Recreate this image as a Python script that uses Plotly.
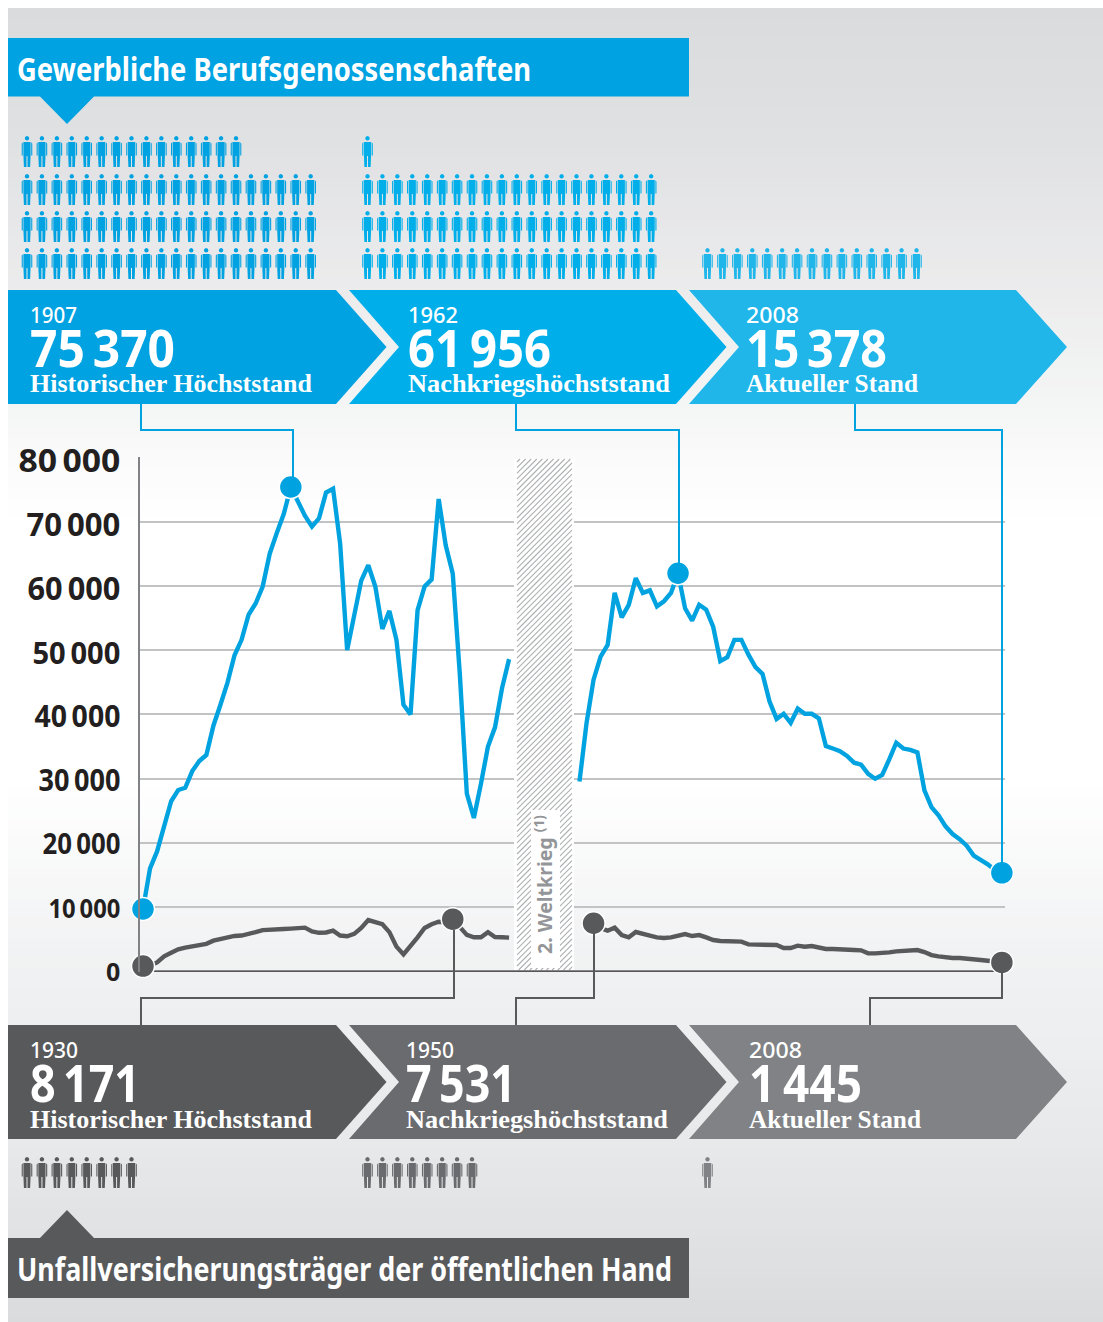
import json
import plotly.graph_objects as go

W, H = 1103, 1322

# ---- data -------------------------------------------------------------
years_pre = list(range(1886, 1939))
blue_pre = [9750, 16050, 18700, 22500, 26500, 28250, 28600, 31200, 32750, 33700, 38250, 41500,
            44950, 49200, 51600, 55500, 57250, 59900, 65000, 68200, 71200, 75370, 73000, 70900,
            69200, 70500, 74500, 75100, 66600, 50000, 55400, 60800, 63200, 59900, 53300, 56100,
            51600, 41500, 40000, 56200, 59900, 61000, 73500, 66300, 61900, 46300, 27700, 23900,
            29200, 35000, 38000, 44100, 48600]
gray_pre = [880, 960, 1440, 2400, 2940, 3480, 3750, 3960, 4230, 4330, 4820, 5080, 5400, 5560,
            5620, 5830, 6150, 6470, 6470, 6470, 6630, 6690, 6800, 6850, 6260, 6050, 6100, 6370,
            5620, 5510, 5890, 6800, 8030, 7760, 7380, 6150, 3900, 2680, 3900, 5350, 6800, 7380,
            7760, 7700, 8171, 6950, 5720, 5350, 5350, 6150, 5400, 5350, 5300]
years_post_blue = list(range(1948, 2009))
blue_post = [29560, 38640, 45400, 49000, 50800, 58900, 55100, 57050, 61200, 58900, 59300, 56800,
             57600, 58900, 61956, 56500, 54600, 57050, 56300, 53600, 48300, 48900, 51600, 51600,
             49300, 47350, 46300, 42000, 39300, 40100, 38700, 40900, 40100, 40100, 39400, 35100,
             34700, 34300, 33550, 32500, 32200, 30750, 30000, 30600, 33000, 35600, 34700, 34500,
             34100, 28200, 25600, 24300, 22600, 21400, 20600, 19600, 18050, 17400, 16700, 15800,
             15378]
years_post_gray = list(range(1950, 2009))
gray_post = [7531, 6740, 6380, 6850, 5700, 5340, 6170, 5810, 5600, 5340, 5240, 5340, 5550, 5860,
             5550, 5700, 5340, 4930, 4770, 4770, 4720, 4670, 4250, 4200, 4250, 4150, 4150, 3680,
             3680, 4050, 3890, 3990, 3790, 3530, 3530, 3530, 3420, 3370, 3320, 2850, 2850, 2850,
             3010, 3160, 3270, 3320, 3370, 3060, 2590, 2390, 2230, 2130, 2130, 2070, 2020, 1820,
             1710, 1660, 1445]
blue_marker_years = [1886, 1907, 1962, 2008]
blue_marker_values = [9750, 75370, 61956, 15378]
gray_marker_years = [1886, 1930, 1950, 2008]
gray_marker_values = [880, 8171, 7531, 1445]

tick_values = [0, 10000, 20000, 30000, 40000, 50000, 60000, 70000, 80000]
tick_names = ["0", "10\u2009000", "20\u2009000", "30\u2009000", "40\u2009000", "50\u2009000",
              "60\u2009000", "70\u2009000", "80\u2009000"]
tick_sizes = [25, 26, 28, 29.5, 30, 31, 32, 33, 33]
tick_labels = [f'<span style="font-size:{s}px">{t}</span>' for t, s in zip(tick_names, tick_sizes)]

top_years = ["1907", "1962", "2008"]
top_numbers = ["75\u2009370", "61\u2009956", "15\u2009378"]
bottom_years = ["1930", "1950", "2008"]
bottom_numbers = ["8\u2009171", "7\u2009531", "1\u2009445"]
stage_labels = ["Historischer Höchststand", "Nachkriegshöchststand", "Aktueller Stand"]
top_people = [75, 61, 15]
bottom_people = [8, 8, 1]

title_top = "Gewerbliche Berufsgenossenschaften"
title_bottom = "Unfallversicherungsträger der öffentlichen Hand"

# drawn widths of the condensed texts of the reference
text_widths = {
    title_top: 514, title_bottom: 655,
    "75\u2009370": 145, "61\u2009956": 143, "15\u2009378": 141,
    "8\u2009171": 110, "7\u2009531": 110, "1\u2009445": 113,
    "1907": 47, "1962": 50, "2008": 53, "1930": 48, "1950": 48,
    "Historischer Höchststand": 282, "Nachkriegshöchststand": 262, "Aktueller Stand": 172,
}
tick_widths = {"80\u2009000": 102, "70\u2009000": 94, "60\u2009000": 93, "50\u2009000": 88,
               "40\u2009000": 86, "30\u2009000": 82, "20\u2009000": 78, "10\u2009000": 72}
tick_nudges = {"80\u2009000": 3, "70\u2009000": 3, "60\u2009000": 3, "50\u2009000": 2,
               "40\u2009000": 1, "30\u2009000": 1, "20\u2009000": -1, "10\u2009000": -1, "0": -2}

# ---- style ------------------------------------------------------------
BLUE = "#00a3e0"
TOP_COLORS = ["#00a2e1", "#00afea", "#20b6ea"]
BOTTOM_COLORS = ["#58595b", "#6a6b6e", "#808285"]
DARK = "#58595b"
NUM_FONT = "Noto Sans"
SERIF = "Liberation Serif"


def px(x):
    return x / W


def py(y):
    return 1 - y / H


# plot box in pixels
X0, X1, Y0, Y1 = 140, 1005, 457.2, 971.7


def year_at(x):
    return 1886 + (x - 143) / 7.04


def val_at(y):
    return (Y1 - y) / (Y1 - Y0) * 80000


shapes = []


def poly(points, color, layer="below"):
    d = "M " + " L ".join(f"{px(x):.5f},{py(y):.5f}" for x, y in points) + " Z"
    shapes.append(dict(type="path", path=d, xref="paper", yref="paper", fillcolor=color,
                       line=dict(width=0), layer=layer))


def polyline(points, color, width=2.0):
    d = "M " + " L ".join(f"{px(x):.5f},{py(y):.5f}" for x, y in points)
    shapes.append(dict(type="path", path=d, xref="paper", yref="paper",
                       line=dict(color=color, width=width), layer="above"))


# background gradient as fine bands
stops = [(8, (218, 219, 221)), (140, (224, 225, 227)), (290, (236, 236, 237)), (404, (244, 245, 245)),
         (450, (250, 250, 250)), (520, (255, 255, 255)), (780, (255, 255, 255)), (970, (240, 241, 242)),
         (1025, (238, 239, 240)), (1140, (232, 233, 234)), (1322, (218, 219, 221))]


def grad(y):
    for (a, ca), (b, cb) in zip(stops, stops[1:]):
        if a <= y <= b:
            t = (y - a) / (b - a)
            return tuple(round(ca[i] + (cb[i] - ca[i]) * t) for i in range(3))
    return stops[-1][1]


step = 10
for y in range(8, H, step):
    c = grad(y + step / 2)
    shapes.append(dict(type="rect", xref="paper", yref="paper", x0=px(8), x1=1, y0=py(y),
                       y1=py(min(y + step + 1, H)), fillcolor=f"rgb{c}", line=dict(width=0), layer="below"))

# banners
poly([(8, 38), (689, 38), (689, 96.5), (94, 96.5), (67, 124), (40, 96.5), (8, 96.5)], TOP_COLORS[0])
poly([(8, 1238), (40, 1238), (67, 1210), (94, 1238), (689, 1238), (689, 1298), (8, 1298)], BOTTOM_COLORS[0])


# chevrons
def chevrons(top, bottom, colors):
    mid = (top + bottom) / 2
    poly([(8, top), (336, top), (386.5, mid), (336, bottom), (8, bottom)], colors[0])
    poly([(349, top), (676, top), (726.5, mid), (676, bottom), (349, bottom), (399, mid)], colors[1])
    poly([(689, top), (1016, top), (1067, mid), (1016, bottom), (689, bottom), (739, mid)], colors[2])


chevrons(290, 404, TOP_COLORS)
chevrons(1025, 1139, BOTTOM_COLORS)


# pictogram people, one path per group
def person(cx, top):
    parts = []
    hx, hy, r = cx, top + 2.3, 2.3
    head = [(hx - r, hy), (hx - .7 * r, hy - .7 * r), (hx, hy - r), (hx + .7 * r, hy - .7 * r), (hx + r, hy),
            (hx + .7 * r, hy + .7 * r), (hx, hy + r), (hx - .7 * r, hy + .7 * r)]
    parts.append(head)
    # torso + legs
    parts.append([(cx - 3.6, top + 6), (cx + 3.6, top + 6), (cx + 3.6, top + 19), (cx + 3.1, top + 31),
                  (cx + 0.5, top + 31), (cx + 0.5, top + 20), (cx - 0.5, top + 20), (cx - 0.5, top + 31),
                  (cx - 3.1, top + 31), (cx - 3.6, top + 19)])
    # arms
    for s in (-1, 1):
        parts.append([(cx + s * 4.2, top + 6.2), (cx + s * 5.3, top + 7.4), (cx + s * 5.3, top + 19.5),
                      (cx + s * 4.2, top + 19.5)])
    return parts


def people_path(count, cx0, row_tops, color):
    subs = []
    n = count
    for top in row_tops:
        k = min(n, 20)
        for i in range(k):
            subs += person(cx0 + i * 14.93, top)
        n -= k
        if n <= 0:
            break
    d = " ".join("M " + " L ".join(f"{px(x):.5f},{py(y):.5f}" for x, y in p) + " Z" for p in subs)
    shapes.append(dict(type="path", path=d, xref="paper", yref="paper", fillcolor=color,
                       line=dict(width=0), layer="below"))


GROUP_X = [27, 367.5, 707.5]
for cnt, cx, col in zip(top_people, GROUP_X, TOP_COLORS):
    people_path(cnt, cx, [248, 211, 174, 136], col)
for cnt, cx, col in zip(bottom_people, GROUP_X, BOTTOM_COLORS):
    people_path(cnt, cx, [1157], col)

# connectors
polyline([(141, 404), (141, 430), (293, 430), (293, 478)], BLUE)
polyline([(516, 404), (516, 430), (679, 430), (679, 564)], BLUE)
polyline([(855, 404), (855, 430), (1002, 430), (1002, 864)], BLUE)
polyline([(141, 1025), (141, 998), (454, 998), (454, 930)], DARK)
polyline([(516, 1025), (516, 998), (594, 998), (594, 933)], DARK)
polyline([(870, 1025), (870, 998), (1002, 998), (1002, 973)], DARK)

# war zone: white band, hatching, label box (above grid, under the lines)
hx0, hx1, hy0, hy1 = 514, 574, 459, 970
shapes.append(dict(type="rect", xref="x", yref="y", x0=year_at(hx0), x1=year_at(hx1), y0=val_at(hy1),
                   y1=val_at(hy0), fillcolor="white", line=dict(width=0), layer="between"))
ax0, ax1 = 517, 572
segs = []
s = hy0 + 3
while s < hy1 + (ax1 - ax0):
    xa, ya = ax0, s
    xb, yb = ax0 + (s - hy0), hy0
    if ya > hy1:
        xa = ax0 + (ya - hy1)
        ya = hy1
    if xb > ax1:
        yb = hy0 + (xb - ax1)
        xb = ax1
    if xa < xb:
        segs.append(f"M {year_at(xa):.4f},{val_at(ya):.1f} L {year_at(xb):.4f},{val_at(yb):.1f}")
    s += 5.6
shapes.append(dict(type="path", path=" ".join(segs), xref="x", yref="y",
                   line=dict(color="#afb0b2", width=1.1), layer="between"))
shapes.append(dict(type="rect", xref="x", yref="y", x0=year_at(531), x1=year_at(560), y0=val_at(968),
                   y1=val_at(810), fillcolor="white", line=dict(width=0), layer="between"))
# zero line over the hatching
shapes.append(dict(type="line", xref="x", yref="y", x0=year_at(X0), x1=year_at(X1), y0=0, y1=0,
                   line=dict(color="#231f20", width=2.4), layer="between"))

# ---- traces -----------------------------------------------------------
fig = go.Figure()
line_blue = dict(color=BLUE, width=4.4)
line_gray = dict(color=DARK, width=4.4)
for xs, ys, ln in [(years_pre, blue_pre, line_blue), (years_post_blue, blue_post, line_blue),
                   (years_pre, gray_pre, line_gray), (years_post_gray, gray_post, line_gray)]:
    fig.add_trace(go.Scatter(x=xs, y=ys, mode="lines", line=ln, cliponaxis=False, showlegend=False,
                             hoverinfo="skip"))
fig.add_trace(go.Scatter(x=blue_marker_years, y=blue_marker_values, mode="markers", cliponaxis=False,
                         marker=dict(size=23, color=BLUE, line=dict(color="white", width=1.5)),
                         showlegend=False, hoverinfo="skip"))
fig.add_trace(go.Scatter(x=gray_marker_years, y=gray_marker_values, mode="markers", cliponaxis=False,
                         marker=dict(size=23, color=DARK, line=dict(color="white", width=1.5)),
                         showlegend=False, hoverinfo="skip"))

# ---- text -------------------------------------------------------------
ann = []


def text(x, y, s, size, family=NUM_FONT, color="white", weight="bold", **kw):
    ann.append(dict(x=px(x), y=py(y), xref="paper", yref="paper", text=s,
                    showarrow=False, xanchor=kw.pop("xanchor", "left"), yanchor="middle", borderpad=0,
                    font=dict(family=family, size=size, color=color, weight=weight), **kw))


text(16, 68, title_top, 32)
text(16, 1268, title_bottom, 32)
tops = [[(30, 408, 746), 315, 346, 384], [(30, 406, 749), 1050, 1081, 1119]]
for (xs, yy, yn, yl), yrs, nums in zip(tops, [top_years, bottom_years], [top_numbers, bottom_numbers]):
    for i in range(3):
        text(xs[i] - 1.3, yy, yrs[i], 21, weight=500)
        text(xs[i] - 1.3, yn, nums[i], 52)
        text(xs[i] - 1.3, yl, stage_labels[i], 26, family=SERIF)
text(543, 885, "2. Weltkrieg <sup>(1)</sup>", 19.5, color="#939598", textangle=-90, xanchor="center")

fig.update_layout(
    width=W, height=H, margin=dict(l=0, r=0, t=0, b=0, pad=0), paper_bgcolor="white",
    plot_bgcolor="rgba(0,0,0,0)", shapes=shapes, annotations=ann, showlegend=False,
    xaxis=dict(domain=[px(X0), px(X1)], range=[year_at(X0), year_at(X1)], visible=False, fixedrange=True,
               automargin=False),
    yaxis=dict(domain=[py(Y1), py(Y0)], range=[0, 80000], tickmode="array", tickvals=tick_values,
               ticktext=tick_labels, showgrid=True, gridcolor="#c2c3c4", gridwidth=1.6, zeroline=False,
               showline=True, linecolor="#808285", linewidth=2, ticks="", ticklabelstandoff=11,
               automargin=False,
               tickfont=dict(family=NUM_FONT, size=33, color="#231f20", weight="bold"), fixedrange=True),
)

# condense texts to the reference's widths (no condensed face is installed)
post = """
document.body.style.margin='0';document.body.style.overflow='hidden';
var AW=%s, TW=%s, TN=%s;
document.querySelectorAll('.annotation-text').forEach(function(t){
  var w=AW[t.textContent]; if(!w) return;
  var b=t.getBBox();
  t.setAttribute('text-anchor','start'); t.style.textAnchor='start'; t.setAttribute('x',b.x);
  t.setAttribute('textLength',w); t.setAttribute('lengthAdjust','spacingAndGlyphs');
});
document.querySelectorAll('.ytick text').forEach(function(t){
  var k=t.textContent, w=TW[k], n=TN[k];
  if(n) t.setAttribute('y', parseFloat(t.getAttribute('y')||0)+n);
  if(!w) return;
  t.setAttribute('textLength',w); t.setAttribute('lengthAdjust','spacingAndGlyphs');
});
""" % (json.dumps(text_widths), json.dumps(tick_widths), json.dumps(tick_nudges))
fig.write_html("out.html", config=dict(displayModeBar=False), post_script=post)
